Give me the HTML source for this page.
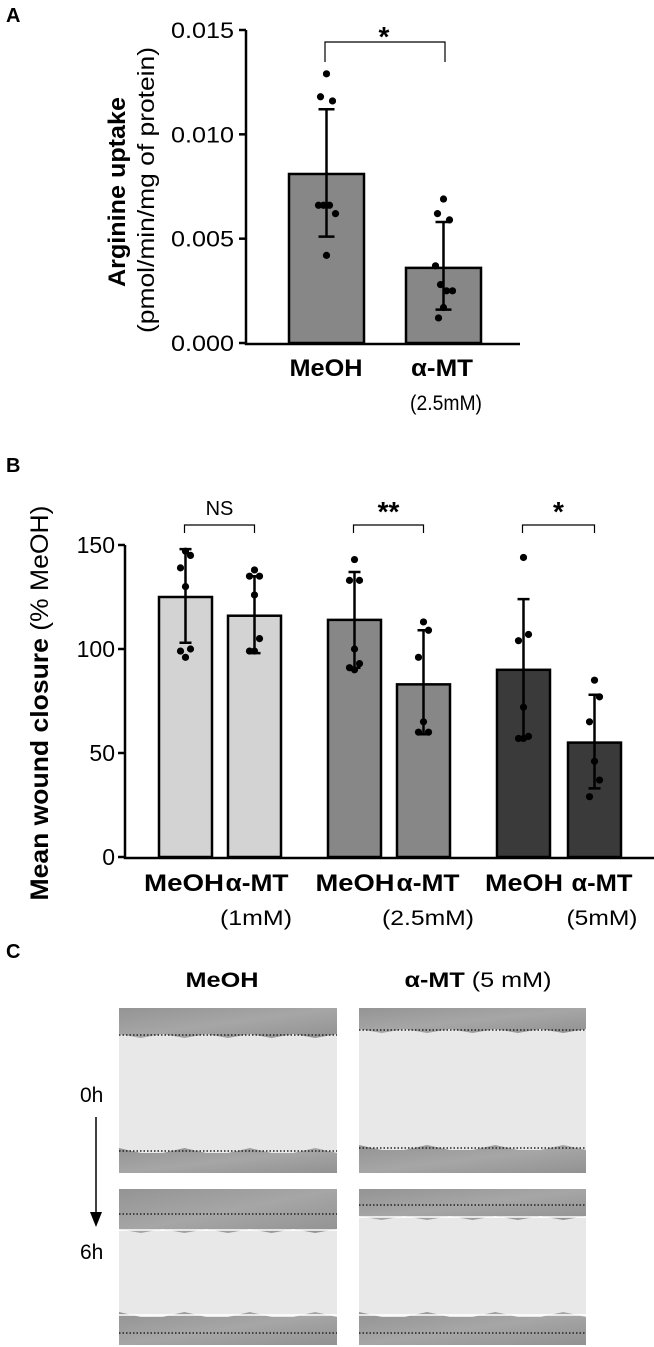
<!DOCTYPE html>
<html><head><meta charset="utf-8"><style>
body{margin:0;background:#fff;width:654px;height:1347px;overflow:hidden;font-family:"Liberation Sans",sans-serif}
svg{position:absolute;left:0;top:0}
</style></head><body>
<svg id="fig" width="654" height="1347" viewBox="0 0 654 1347">
<defs>
<linearGradient id="cellTex" x1="0" y1="0" x2="1" y2="1">
<stop offset="0" stop-color="#949494"/><stop offset="0.5" stop-color="#a6a6a6"/><stop offset="1" stop-color="#929292"/>
</linearGradient>
</defs>
<g id="pa"></g>
<g id="pb"></g>
<g id="pc"></g>
</svg>
<script>
// ---------- Panel A data ----------
const aCategories = ["MeOH", "α-MT"];
const aMeans = [0.0081, 0.0036];
const aErrLow = [0.0051, 0.0016];
const aErrHigh = [0.0112, 0.0058];
const aDotsMeOH = [0.0129, 0.0118, 0.0116, 0.0066, 0.0066, 0.0066, 0.0062, 0.0042];
const aDotsAMT = [0.0069, 0.0062, 0.0059, 0.0037, 0.0028, 0.0025, 0.0025, 0.0017, 0.0012];
const aTicks = [0, 0.005, 0.010, 0.015];
const aTickLabels = ["0.000", "0.005", "0.010", "0.015"];
// ---------- Panel B data ----------
const bCategories = ["MeOH", "α-MT", "MeOH", "α-MT", "MeOH", "α-MT"];
const bMeans = [125, 116, 114, 83, 90, 55];
const bErrLow = [103, 98, 91, 59, 57, 33];
const bErrHigh = [148, 135, 137, 109, 124, 78];
const bDots = [
  [147, 145, 139, 130, 100, 99, 96],
  [138, 135, 135, 126, 105, 99, 99],
  [143, 133, 133, 100, 93, 91, 90],
  [113, 109, 96, 65, 60, 60],
  [144, 107, 104, 72, 58, 57, 57],
  [85, 77, 65, 46, 37, 29]
];
const bTicks = [0, 50, 100, 150];
const bTickLabels = ["0", "50", "100", "150"];
const bSig = ["NS", "**", "*"];
const bDoses = ["(1mM)", "(2.5mM)", "(5mM)"];

const NS = "http://www.w3.org/2000/svg";
function mk(parent, tag, attrs, text){
  const e = document.createElementNS(NS, tag);
  for (const k in attrs) e.setAttribute(k, attrs[k]);
  if (text !== undefined) e.textContent = text;
  parent.appendChild(e);
  return e;
}
const FONT = '"Liberation Sans", sans-serif';

// ---------- Panel A ----------
(function(){
  const g = document.getElementById('pa');
  const yA = v => 343 - v / 0.015 * 313;
  const barX = [289, 406], barW = 75;
  let t = mk(g, 'text', {x: 6, y: 22, 'font-size': 20, 'font-weight': 'bold', 'font-family': FONT}, 'A');
  
  
  aMeans.forEach((m, i) => {
    const r = mk(g, 'rect', {x: barX[i], y: yA(m), width: barW, height: yA(0) - yA(m), fill: '#878787', stroke: '#000', 'stroke-width': 2.5});
    
    
  });
  [aDotsMeOH, aDotsAMT].forEach((arr, i) => {
    const cx = barX[i] + barW / 2;
    const offs = [0, -6, 6, -8, -3, 3, 9, 0, -5, 5];
    arr.forEach((v, j) => {
      const c = mk(g, 'circle', {cx: cx + offs[j % offs.length], cy: yA(v), r: 3.6, fill: '#000'});
      
      
    });
  });
  aMeans.forEach((m, i) => {
    const cx = barX[i] + barW / 2;
    const e = mk(g, 'path', {d: `M${cx},${yA(aErrLow[i])}V${yA(aErrHigh[i])}M${cx-8},${yA(aErrLow[i])}h16M${cx-8},${yA(aErrHigh[i])}h16`, stroke: '#000', 'stroke-width': 2.5, fill: 'none'});
    
    
  });
  const ax = mk(g, 'path', {d: `M246,${yA(0.015)}V${yA(0)+1}H520`, stroke: '#000', 'stroke-width': 2.5, fill: 'none'});
  
  
  aTicks.forEach((v, i) => {
    mk(g, 'line', {x1: 239, x2: 246, y1: yA(v), y2: yA(v), stroke: '#000', 'stroke-width': 2.5});
    const tl = mk(g, 'text', {x: 234, y: yA(v) + 8, 'font-size': 22, 'text-anchor': 'end', 'font-family': FONT, textLength: 63, lengthAdjust: 'spacingAndGlyphs'}, aTickLabels[i]);
    
    
  });
  const yt = mk(g, 'text', {transform: 'translate(125,192) rotate(-90)', 'text-anchor': 'middle', 'font-size': 24, 'font-weight': 'bold', 'font-family': FONT, textLength: 190, lengthAdjust: 'spacingAndGlyphs'}, 'Arginine uptake');
  
  
  const yt2 = mk(g, 'text', {transform: 'translate(154,190) rotate(-90)', 'text-anchor': 'middle', 'font-size': 23, 'font-family': FONT, textLength: 286, lengthAdjust: 'spacingAndGlyphs'}, '(pmol/min/mg of protein)');
  
  
  const labX = [326, 442], labW = [73, 62];
  aCategories.forEach((c, i) => {
    const tx = mk(g, 'text', {x: labX[i], y: 376, 'text-anchor': 'middle', 'font-size': 24, 'font-weight': 'bold', 'font-family': FONT, textLength: labW[i], lengthAdjust: 'spacingAndGlyphs'}, c);
    
    
  });
  const d = mk(g, 'text', {x: 446, y: 410, 'text-anchor': 'middle', 'font-size': 21, 'font-family': FONT, textLength: 72, lengthAdjust: 'spacingAndGlyphs'}, '(2.5mM)');
  
  
  const br = mk(g, 'path', {d: 'M325,62V42H445V62', stroke: '#000', 'stroke-width': 1.2, fill: 'none'});
  
  
  const st = mk(g, 'text', {x: 384, y: 46, 'text-anchor': 'middle', 'font-size': 28, 'font-weight': 'bold', 'font-family': FONT}, '*');
  
  
})();

// ---------- Panel B ----------
(function(){
  const g = document.getElementById('pb');
  const yB = v => 857 - v / 150 * 312;
  const barX = [159, 228, 328, 397, 497, 568], barW = 53;
  const fills = ['#d3d3d3', '#d3d3d3', '#878787', '#878787', '#3a3a3a', '#3a3a3a'];
  const t = mk(g, 'text', {x: 6, y: 472, 'font-size': 20, 'font-weight': 'bold', 'font-family': FONT}, 'B');
  
  
  bMeans.forEach((m, i) => {
    const r = mk(g, 'rect', {x: barX[i], y: yB(m), width: barW, height: yB(0) - yB(m), fill: fills[i], stroke: '#000', 'stroke-width': 2.5});
    
    
  });
  const offs = [0, 5, -5, 0, 5, -5, 0];
  bDots.forEach((arr, i) => {
    const cx = barX[i] + barW / 2;
    arr.forEach((v, j) => {
      const c = mk(g, 'circle', {cx: cx + offs[j % offs.length], cy: yB(v), r: 3.6, fill: '#000'});
      
      
    });
  });
  bMeans.forEach((m, i) => {
    const cx = barX[i] + barW / 2;
    const e = mk(g, 'path', {d: `M${cx},${yB(bErrLow[i])}V${yB(bErrHigh[i])}M${cx-6},${yB(bErrLow[i])}h12M${cx-6},${yB(bErrHigh[i])}h12`, stroke: '#000', 'stroke-width': 2.5, fill: 'none'});
    
    
  });
  const ax = mk(g, 'path', {d: `M125,${yB(150)}V${yB(0)+1}H654`, stroke: '#000', 'stroke-width': 2.5, fill: 'none'});
  
  
  bTicks.forEach((v, i) => {
    mk(g, 'line', {x1: 118, x2: 125, y1: yB(v), y2: yB(v), stroke: '#000', 'stroke-width': 2.5});
    const tl = mk(g, 'text', {x: 115, y: yB(v) + 8, 'font-size': 23, 'text-anchor': 'end', 'font-family': FONT}, bTickLabels[i]);
    
    
  });
  const yt = mk(g, 'text', {transform: 'translate(48,703) rotate(-90)', 'text-anchor': 'middle', 'font-size': 25, 'font-family': FONT, textLength: 395, lengthAdjust: 'spacingAndGlyphs'});
  
  
  mk(yt, 'tspan', {'font-weight': 'bold'}, 'Mean wound closure ');
  mk(yt, 'tspan', {}, '(% MeOH)');
  const labX = [184, 257, 355, 428, 524, 602];
  const labW = [80, 63, 79, 63, 78, 61];
  bCategories.forEach((c, i) => {
    const tx = mk(g, 'text', {x: labX[i], y: 891, 'text-anchor': 'middle', 'font-size': 24, 'font-weight': 'bold', 'font-family': FONT, textLength: labW[i], lengthAdjust: 'spacingAndGlyphs'}, c);
    
    
  });
  const doseX = [256, 428, 602], doseW = [72, 92, 71];
  bDoses.forEach((d, k) => {
    const tx = mk(g, 'text', {x: doseX[k], y: 925, 'text-anchor': 'middle', 'font-size': 21, 'font-family': FONT, textLength: doseW[k], lengthAdjust: 'spacingAndGlyphs'}, d);
    
    
  });
  bSig.forEach((s, k) => {
    const x1 = barX[2*k] + barW / 2 - 1, x2 = barX[2*k+1] + barW / 2;
    const br = mk(g, 'path', {d: `M${x1},533V525H${x2}V533`, stroke: '#000', 'stroke-width': 1.2, fill: 'none'});
    
    
    const st = mk(g, 'text', {x: (x1 + x2) / 2, y: s === 'NS' ? 515 : 521, 'text-anchor': 'middle', 'font-size': s === 'NS' ? 20 : 28, 'font-weight': s === 'NS' ? 'normal' : 'bold', 'font-family': FONT}, s);
    
    
  });
})();

// ---------- Panel C (micrographs approximation) ----------
(function(){
  const g = document.getElementById('pc');
  const t = mk(g, 'text', {x: 6, y: 958, 'font-size': 20, 'font-weight': 'bold', 'font-family': FONT}, 'C');
  
  
  const h1 = mk(g, 'text', {x: 222, y: 987, 'text-anchor': 'middle', 'font-size': 21, 'font-weight': 'bold', 'font-family': FONT, textLength: 73, lengthAdjust: 'spacingAndGlyphs'}, 'MeOH');
  
  
  const h2 = mk(g, 'text', {x: 478, y: 987, 'text-anchor': 'middle', 'font-size': 21, 'font-family': FONT, textLength: 147, lengthAdjust: 'spacingAndGlyphs'});
  
  
  mk(h2, 'tspan', {'font-weight': 'bold'}, 'α-MT');
  mk(h2, 'tspan', {}, ' (5 mM)');
  const r0 = mk(g, 'text', {x: 80, y: 1102, 'font-size': 21, 'font-family': FONT}, '0h');
  
  
  const r6 = mk(g, 'text', {x: 80, y: 1259, 'font-size': 21, 'font-family': FONT}, '6h');
  
  
  const ar = mk(g, 'path', {d: 'M96,1117V1214', stroke: '#000', 'stroke-width': 1.5});
  
  
  mk(g, 'path', {d: 'M90,1212L102,1212L96,1227Z', fill: '#000'});
  const panels = [
    {x:119, y:1008, w:218, h:165, top:27, bot:22, white:false},
    {x:359, y:1008, w:227, h:165, top:22, bot:25, white:false},
    {x:119, y:1189, w:218, h:156, top:41, bot:30, white:true},
    {x:359, y:1189, w:227, h:156, top:28, bot:30, white:true}
  ];
  panels.forEach((p, i) => {
    const gg = mk(g, 'g', {});
    
    
    mk(gg, 'rect', {x: p.x, y: p.y, width: p.w, height: p.h, fill: '#e8e8e8'});
    let topPath = `M${p.x},${p.y}H${p.x+p.w}V${p.y+p.top}`;
    let botPath = `M${p.x},${p.y+p.h}H${p.x+p.w}V${p.y+p.h-p.bot}`;
    for (let k = 10; k >= 0; k--) {
      const xx = p.x + p.w * k / 10;
      topPath += `L${xx},${p.y + p.top + (k % 2 ? 3 : -1)}`;
      botPath += `L${xx},${p.y + p.h - p.bot + (k % 3 ? 2 : -3)}`;
    }
    mk(gg, 'path', {d: topPath + 'Z', fill: 'url(#cellTex)'});
    mk(gg, 'path', {d: botPath + 'Z', fill: 'url(#cellTex)'});
    if (p.white) {
      mk(gg, 'line', {x1: p.x, x2: p.x+p.w, y1: p.y+p.top, y2: p.y+p.top, stroke: '#fff', 'stroke-width': 1.5});
      mk(gg, 'line', {x1: p.x, x2: p.x+p.w, y1: p.y+p.h-p.bot, y2: p.y+p.h-p.bot, stroke: '#fff', 'stroke-width': 1.5});
      mk(gg, 'line', {x1: p.x, x2: p.x+p.w, y1: p.y+(i===2?25:16), y2: p.y+(i===2?25:16), stroke: '#222', 'stroke-width': 1.5, 'stroke-dasharray': '1.5,2'});
      mk(gg, 'line', {x1: p.x, x2: p.x+p.w, y1: p.y+p.h-12, y2: p.y+p.h-12, stroke: '#222', 'stroke-width': 1.5, 'stroke-dasharray': '1.5,2'});
    } else {
      mk(gg, 'line', {x1: p.x, x2: p.x+p.w, y1: p.y+p.top, y2: p.y+p.top, stroke: '#222', 'stroke-width': 1.5, 'stroke-dasharray': '1.5,2'});
      mk(gg, 'line', {x1: p.x, x2: p.x+p.w, y1: p.y+p.h-p.bot, y2: p.y+p.h-p.bot, stroke: '#222', 'stroke-width': 1.5, 'stroke-dasharray': '1.5,2'});
    }
  });
})();
</script>
</body></html>
